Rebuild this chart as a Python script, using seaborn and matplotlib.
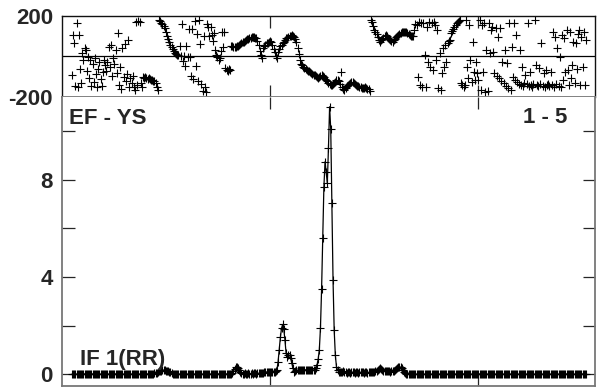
import numpy as np
import pandas as pd
import matplotlib
matplotlib.use("Agg")
import matplotlib.pyplot as plt
import seaborn as sns

# phase (deg) per channel
phase = [
    -92, 107, 64, -146, 163, -151, 107, -62, -130, 15,
    -18, 40, 31, -70, -3, -105, -20, -145, -40, -125,
    -10, -85, -150, -60, -30, -110, -145, -75, -20, -45,
    -70, -30, 45, -50, 55, -95, -10, -40, 30, -80,
    113, -140, -52, -160, 40, -100, 60, -120, -85, 80,
    -150, -105, -130, -95, -150, -165, 170, -140, 175, 168,
    -130, -150, -100, -108, -104, -105, -110, -108, -112, -115,
    -118, -120, -122, -130, -150, -165, 179, 172, 165, 158,
    150, 140, 120, 100, 86, 70, 58, 46, 35, 26,
    18, 13, 9, 5, 52, 3, 159, -21, 2, -46,
    52, -3, 135, -5, -95, 135, -111, 175, -46, 110,
    -120, 179, 61, -136, -169, 102, -152, -177, 159, 143,
    102, 143, 105, 77, 113, 31, 7, -2, -18, -10,
    28, 121, 45, 118, -55, -65, -70, -62, -68, 52,
    50, 46, 44, 48, 50, 52, 58, 62, 66, 69,
    72, 76, 80, 84, 86, 90, 92, 94, 95, 97,
    92, 88, 75, 55, 25, 5, -8, 40, 50, 58,
    64, 68, 72, 75, 70, 55, 35, 20, 2, -10,
    20, 35, 50, 58, 65, 72, 80, 88, 92, 96,
    100, 102, 104, 100, 96, 85, 70, 40, 10, -20,
    -38, -45, -52, -58, -63, -67, -70, -74, -78, -82,
    -86, -90, -94, -98, -104, -107, -100, -95, -92, -96,
    -104, -112, -116, -122, -130, -138, -141, -142, -136, -131,
    -125, -118, -116, -122, -135, -77, -150, -160, -166, -158,
    -148, -141, -135, -130, -126, -128, -132, -138, -141, -144,
    -148, -150, -152, -154, -156, -155, -152, -156, -160, -162,
    -170, 178, 168, 150, 130, 118, 110, 95, 80, 72,
    78, 86, 92, 98, 104, 100, 92, 84, 78, 74,
    72, 78, 86, 94, 100, 104, 110, 115, 118, 121,
    122, 121, 118, 114, 108, 104, 100, 98, 102, 130,
    160, 155, -101, 170, -141, 163, -151, 163, 7, -151,
    146, -28, 170, -52, 165, -67, 170, 155, -18, 130,
    -156, 16, -166, -82, 41, -52, 55, -28, 64, 75,
    80, 113, 125, 135, 145, 155, 162, 169, 175, 179,
    -131, -140, -151, -141, 179, -52, -107, 155, -18, -126,
    72, -77, -116, -30, -80, -116, 179, -166, 155, -77,
    163, -176, 31, -170, 163, 15, 130, 146, 23, -84,
    138, -96, 97, -108, 138, -120, -26, -133, 31, -145,
    -34, -157, 163, -166, 47, -100, 163, -118, 105, -125,
    -135, 31, -140, -51, -145, -130, -92, -138, 163, -145,
    -75, -140, -150, -135, 179, -43, -142, -148, -59, -138,
    64, -145, -84, -150, -67, -140, -135, -148, -75, -142,
    121, -150, 97, -138, 40, -145, -2, -149, 105, -116,
    89, -75, 130, -67, -140, 121, -108, -43, 72, -133,
    64, -60, 110, 130, -140, 95, -50, 120, -140, 80,
]

# amplitude per channel
amplitude = [
    0.01, 0.02, 0.01, 0.02, 0.01, 0.01, 0.02, 0.01, 0.02, 0.01,
    0.01, 0.02, 0.01, 0.02, 0.01, 0.01, 0.02, 0.01, 0.02, 0.01,
    0.01, 0.02, 0.01, 0.02, 0.01, 0.01, 0.02, 0.01, 0.02, 0.01,
    0.01, 0.02, 0.01, 0.02, 0.01, 0.01, 0.02, 0.01, 0.02, 0.01,
    0.01, 0.02, 0.01, 0.02, 0.01, 0.01, 0.02, 0.01, 0.02, 0.01,
    0.01, 0.02, 0.01, 0.02, 0.01, 0.01, 0.02, 0.01, 0.02, 0.01,
    0.01, 0.02, 0.01, 0.02, 0.01, 0.01, 0.02, 0.01, 0.02, 0.01,
    0.02, 0.03, 0.04, 0.05, 0.07, 0.09, 0.12, 0.14, 0.16, 0.17,
    0.18, 0.17, 0.16, 0.15, 0.14, 0.11, 0.08, 0.05, 0.03, 0.02,
    0.02, 0.01, 0.02, 0.02, 0.01, 0.02, 0.02, 0.01, 0.02, 0.02,
    0.02, 0.01, 0.02, 0.02, 0.01, 0.02, 0.02, 0.01, 0.02, 0.02,
    0.02, 0.01, 0.02, 0.02, 0.01, 0.02, 0.02, 0.01, 0.02, 0.02,
    0.02, 0.01, 0.02, 0.02, 0.01, 0.02, 0.02, 0.01, 0.02, 0.02,
    0.02, 0.01, 0.02, 0.02, 0.01, 0.02, 0.02, 0.01, 0.02, 0.03,
    0.05, 0.12, 0.22, 0.29, 0.31, 0.26, 0.17, 0.09, 0.05, 0.03,
    0.03, 0.04, 0.03, 0.03, 0.04, 0.03, 0.03, 0.04, 0.03, 0.04,
    0.04, 0.03, 0.04, 0.04, 0.05, 0.05, 0.05, 0.06, 0.08, 0.09,
    0.10, 0.09, 0.10, 0.10, 0.09, 0.10, 0.11, 0.10, 0.12, 0.18,
    0.52, 1.00, 1.52, 1.89, 2.05, 1.85, 1.41, 0.86, 0.72, 0.79,
    0.79, 0.66, 0.45, 0.25, 0.11, 0.15, 0.18, 0.17, 0.18, 0.19,
    0.18, 0.17, 0.18, 0.18, 0.19, 0.18, 0.17, 0.18, 0.17, 0.18,
    0.19, 0.18, 0.20, 0.25, 0.38, 0.62, 1.00, 1.89, 3.50, 5.61,
    7.68, 8.73, 8.32, 7.84, 9.31, 10.99, 10.06, 7.02, 3.87, 1.82,
    0.79, 0.31, 0.18, 0.10, 0.08, 0.09, 0.08, 0.12, 0.10, 0.08,
    0.07, 0.08, 0.08, 0.07, 0.08, 0.09, 0.08, 0.07, 0.08, 0.08,
    0.07, 0.08, 0.08, 0.09, 0.08, 0.07, 0.08, 0.08, 0.07, 0.08,
    0.08, 0.08, 0.08, 0.08, 0.10, 0.12, 0.16, 0.20, 0.24, 0.25,
    0.22, 0.18, 0.14, 0.12, 0.12, 0.13, 0.12, 0.12, 0.11, 0.12,
    0.13, 0.15, 0.18, 0.22, 0.26, 0.29, 0.31, 0.30, 0.26, 0.18,
    0.10, 0.05, 0.02, 0.01, 0.01, 0.02, 0.01, 0.01, 0.02, 0.01,
    0.01, 0.01, 0.02, 0.01, 0.01, 0.01, 0.02, 0.01, 0.01, 0.01,
    0.01, 0.01, 0.02, 0.01, 0.01, 0.01, 0.02, 0.01, 0.01, 0.01,
    0.01, 0.01, 0.02, 0.01, 0.01, 0.01, 0.02, 0.01, 0.01, 0.01,
    0.01, 0.01, 0.02, 0.01, 0.01, 0.01, 0.02, 0.01, 0.01, 0.01,
    0.01, 0.01, 0.02, 0.01, 0.01, 0.01, 0.02, 0.01, 0.01, 0.01,
    0.01, 0.01, 0.02, 0.01, 0.01, 0.01, 0.02, 0.01, 0.01, 0.01,
    0.01, 0.01, 0.02, 0.01, 0.01, 0.01, 0.02, 0.01, 0.01, 0.01,
    0.01, 0.01, 0.02, 0.01, 0.01, 0.01, 0.02, 0.01, 0.01, 0.01,
    0.01, 0.01, 0.02, 0.01, 0.01, 0.01, 0.02, 0.01, 0.01, 0.01,
    0.01, 0.01, 0.02, 0.01, 0.01, 0.01, 0.02, 0.01, 0.01, 0.01,
    0.01, 0.01, 0.02, 0.01, 0.01, 0.01, 0.02, 0.01, 0.01, 0.01,
    0.01, 0.01, 0.02, 0.01, 0.01, 0.01, 0.02, 0.01, 0.01, 0.01,
    0.01, 0.01, 0.02, 0.01, 0.01, 0.01, 0.02, 0.01, 0.01, 0.01,
    0.01, 0.01, 0.02, 0.01, 0.01, 0.01, 0.02, 0.01, 0.01, 0.01,
    0.01, 0.01, 0.02, 0.01, 0.01, 0.01, 0.02, 0.01, 0.01, 0.01,
]

channels = np.arange(len(phase))

chan_ticks = [172.9, 354.6]
phase_ticks = [-200, 200]
phase_labels = ["-200", "200"]
amp_ticks = [0, 2, 4, 6, 8, 10]
amp_labels = ["0", "", "4", "", "8", ""]

baseline_label = "EF - YS"
stokes_label = "IF 1(RR)"
range_label = "1 - 5"

df = pd.DataFrame({"channel": channels, "phase": phase, "amplitude": amplitude})

sns.set_style("white")
plt.rcParams["font.family"] = ["Liberation Sans", "DejaVu Sans"]
plt.rcParams["font.weight"] = "bold"

fig = plt.figure(figsize=(6.07, 3.90), dpi=100)
W, H = 607, 390
ax1 = fig.add_axes([62 / W, 1 - 97 / H, 533 / W, 81.3 / H])
ax2 = fig.add_axes([62 / W, 1 - 385.6 / H, 533 / W, 288.6 / H], sharex=ax1)

# phase panel
sns.scatterplot(data=df, x="channel", y="phase", marker="+", s=40, color="black",
                linewidth=0.8, legend=False, ax=ax1)
ax1.axhline(0, color="black", lw=0.9)
ax1.set_ylim(-200, 200)
ax1.set_yticks(phase_ticks, phase_labels)
ax1.tick_params(axis="y", length=0, pad=6.5, labelsize=16)

# amplitude panel
sns.lineplot(data=df, x="channel", y="amplitude", color="black", lw=0.9, marker="+",
             markersize=6.2, markeredgecolor="black", markeredgewidth=0.8,
             estimator=None, legend=False, ax=ax2)
ax2.set_ylim(-0.46, 11.39)
ax2.set_xlim(-8.73, 456.8)
ax2.set_yticks(amp_ticks, amp_labels)
ax2.tick_params(axis="y", direction="in", left=True, right=True, length=9,
                width=0.9, pad=6.5, labelsize=16)

for ax in (ax1, ax2):
    ax.set_xticks(chan_ticks)
    ax.tick_params(axis="x", direction="in", top=True, bottom=True, length=8.5,
                   width=0.9, labelbottom=False)
    ax.set_xlabel("")
    ax.set_ylabel("")

for s in ax1.spines.values():
    s.set_color("#111111")
    s.set_linewidth(1.0)
ax1.spines["bottom"].set_color("#777777")
ax1.spines["bottom"].set_linewidth(1.3)
for s in ax2.spines.values():
    s.set_color("#777777")
    s.set_linewidth(1.3)
ax2.spines["top"].set_visible(False)

ax2.text(0.013, 0.906, baseline_label, transform=ax2.transAxes, fontsize=16,
         fontweight="bold", ha="left", va="baseline")
ax2.text(0.948, 0.909, range_label, transform=ax2.transAxes, fontsize=16,
         fontweight="bold", ha="right", va="baseline")
ax2.text(0.034, 0.071, stokes_label, transform=ax2.transAxes, fontsize=16,
         fontweight="bold", ha="left", va="baseline")

fig.savefig("out.png", dpi=100)
plt.close(fig)
